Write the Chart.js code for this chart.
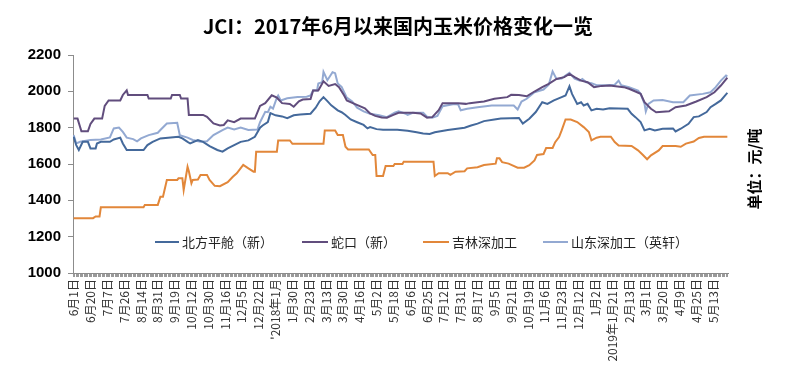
<!DOCTYPE html>
<html>
<head>
<meta charset="utf-8">
<script src="https://cdn.jsdelivr.net/npm/chart.js@4/dist/chart.umd.min.js"></script>
<style>
  html, body { margin: 0; padding: 0; background: #fff; }
  #wrap { width: 786px; height: 376px; }
</style>
</head>
<body>
<div id="wrap"><canvas id="chart" width="786" height="376"></canvas></div>
<script>
// one category per trading day, a date label every 13 days
const N_DAYS = 506;
const LABEL_STEP = 13;
const TICK_LABELS = ['6月1日','6月20日','7月7日','7月26日','8月14日','8月31日','9月19日','10月12日',
    '10月30日','11月16日','12月5日','12月22日',"'2018年1月",'1月30日','2月23日','3月13日','3月30日',
    '4月16日','5月2日','5月18日','6月6日','6月25日','7月12日','7月31日','8月17日','9月5日','9月21日',
    '10月19日','11月6日','11月23日','12月12日','1月2日','2019年1月21日','2月13日','3月1日','3月20日',
    '4月9日','4月25日','5月13日'];

const Y_TICKS = [1000, 1200, 1400, 1600, 1800, 2000, 2200];

const SERIES_NAMES = ['北方平舱（新）', '蛇口（新）', '吉林深加工', '山东深加工（英轩）'];

// [day index, price]
const beifang = [[0,1750],[2,1704],[4,1677],[7,1722],[11,1722],[13,1686],[17,1686],[18,1713],[21,1722],
    [28,1722],[31,1735],[36,1745],[38,1713],[41,1677],[54,1677],[57,1704],[61,1722],[67,1741],[75,1746],
    [81,1750],[84,1741],[88,1722],[90,1713],[96,1732],[100,1722],[105,1699],[111,1677],[115,1668],
    [119,1686],[124,1704],[129,1722],[135,1730],[140,1750],[144,1800],[146,1812],[150,1831],[152,1880],
    [156,1868],[161,1862],[165,1852],[170,1868],[175,1872],[183,1877],[187,1910],[190,1945],[193,1968],
    [196,1946],[199,1923],[204,1895],[207,1885],[210,1870],[214,1845],[219,1830],[224,1815],[227,1796],
    [229,1803],[234,1792],[239,1788],[250,1788],[258,1783],[265,1775],[270,1768],[275,1765],[279,1775],
    [289,1787],[302,1800],[307,1812],[312,1822],[317,1836],[325,1845],[330,1850],[344,1853],[347,1822],
    [352,1849],[357,1886],[362,1940],[366,1931],[371,1950],[377,1968],[380,1977],[383,2028],[385,1986],
    [389,1931],[392,1940],[394,1922],[397,1931],[400,1895],[404,1904],[409,1900],[414,1907],[428,1904],
    [431,1876],[434,1858],[438,1831],[441,1785],[445,1794],[449,1785],[455,1794],[463,1796],[465,1779],
    [469,1794],[475,1821],[479,1858],[483,1862],[489,1886],[492,1913],[496,1931],[500,1950],[505,1992]];

const shekou = [[0,1850],[3,1850],[6,1780],[11,1780],[13,1820],[16,1850],[22,1850],[24,1920],[27,1950],
    [36,1950],[38,1980],[41,2005],[42,1980],[57,1980],[58,1960],[75,1960],[76,1980],[82,1980],[83,1960],
    [88,1960],[89,1870],[100,1870],[103,1860],[108,1823],[113,1812],[116,1815],[119,1840],[124,1830],
    [129,1850],[140,1850],[144,1920],[148,1935],[153,1978],[157,1965],[161,1935],[167,1930],[170,1915],
    [174,1945],[177,1955],[183,1958],[185,2005],[189,2005],[193,2055],[197,2030],[202,2040],[205,2023],
    [209,1977],[211,1950],[217,1931],[225,1906],[229,1878],[233,1865],[238,1856],[242,1855],[247,1870],
    [251,1882],[262,1882],[268,1878],[273,1855],[277,1858],[282,1896],[285,1935],[297,1935],[303,1931],
    [306,1935],[312,1940],[317,1944],[325,1959],[335,1968],[338,1981],[344,1980],[350,1973],[356,1999],
    [362,2023],[367,2041],[373,2068],[379,2078],[383,2096],[387,2078],[392,2059],[397,2050],[402,2023],
    [408,2030],[414,2032],[425,2023],[429,2014],[434,1999],[438,1986],[441,1940],[446,1904],[450,1885],
    [460,1890],[465,1913],[473,1922],[481,1944],[489,1968],[495,1995],[500,2032],[505,2075]];

const jilin = [[0,1302],[15,1302],[17,1311],[20,1311],[21,1362],[54,1362],[55,1375],[65,1375],[67,1420],
    [69,1420],[72,1512],[80,1512],[81,1521],[84,1521],[85,1457],[88,1585],[89,1560],[91,1494],[92,1512],
    [96,1515],[98,1540],[103,1540],[105,1512],[109,1480],[113,1478],[119,1500],[123,1530],[126,1549],
    [131,1595],[135,1576],[139,1558],[140,1558],[141,1668],[157,1668],[158,1730],[167,1730],[169,1711],
    [193,1711],[194,1784],[202,1784],[204,1759],[208,1759],[210,1695],[212,1680],[228,1680],[231,1649],
    [233,1649],[234,1534],[239,1534],[241,1589],[247,1589],[248,1600],[254,1600],[255,1613],[278,1613],
    [279,1534],[282,1549],[289,1549],[291,1540],[295,1558],[302,1560],[304,1576],[312,1582],[317,1594],
    [326,1602],[327,1631],[329,1631],[331,1610],[336,1602],[343,1580],[348,1580],[352,1593],[356,1620],
    [358,1650],[363,1655],[365,1688],[370,1688],[372,1720],[375,1748],[377,1785],[380,1845],[384,1845],
    [389,1831],[394,1803],[398,1776],[400,1730],[404,1745],[407,1750],[415,1750],[418,1721],[421,1702],
    [431,1699],[436,1675],[440,1648],[443,1626],[446,1648],[452,1675],[455,1699],[465,1699],[469,1695],
    [473,1712],[479,1724],[483,1743],[487,1750],[505,1750]];

const shandong = [[0,1759],[2,1713],[5,1722],[13,1732],[21,1735],[28,1746],[31,1796],[35,1801],[38,1777],
    [41,1745],[46,1737],[49,1725],[52,1741],[58,1759],[65,1772],[67,1787],[72,1823],[80,1827],[82,1759],
    [88,1745],[92,1732],[98,1722],[103,1725],[108,1759],[115,1787],[119,1801],[124,1790],[129,1801],
    [135,1787],[142,1790],[144,1830],[148,1887],[150,1885],[152,1915],[154,1905],[157,1965],[158,1977],
    [160,1950],[165,1962],[173,1969],[180,1970],[183,1977],[185,2006],[188,2004],[189,2043],[192,2050],
    [193,2107],[196,2061],[200,2105],[202,2100],[204,2043],[207,2025],[211,1965],[215,1946],[219,1910],
    [224,1890],[229,1876],[236,1868],[242,1858],[248,1882],[251,1890],[256,1878],[258,1870],[262,1882],
    [270,1882],[273,1860],[277,1855],[281,1865],[285,1918],[294,1930],[297,1928],[299,1896],[304,1904],
    [312,1913],[323,1922],[340,1922],[343,1900],[346,1944],[350,1959],[356,1995],[363,2010],[367,2036],
    [370,2110],[373,2068],[377,2070],[380,2087],[383,2102],[387,2070],[391,2059],[393,2068],[396,2050],
    [400,2045],[404,2034],[411,2034],[418,2036],[421,2059],[423,2034],[429,2023],[436,2004],[438,1986],
    [441,1931],[442,1889],[444,1931],[448,1950],[455,1952],[463,1940],[471,1940],[476,1977],[486,1986],
    [492,1995],[496,2023],[500,2059],[504,2087],[505,2083]];

const COLORS = ['#44699b', '#614d7d', '#e2873a', '#93a9d2'];

const toPoints = arr => arr.map(([x, y]) => ({ x, y }));

// legend sits inside the plot, drawn by hand like the original
const legendPlugin = {
    id: 'inlineLegend',
    afterDraw(chart) {
        const ctx = chart.ctx;
        const items = [
            { line: 155, text: 182 },
            { line: 302, text: 331 },
            { line: 423, text: 452 },
            { line: 543, text: 571 },
        ];
        const y = 242;
        ctx.save();
        ctx.font = '13px "Noto Sans CJK SC"';
        ctx.textBaseline = 'middle';
        ctx.fillStyle = '#222';
        items.forEach((it, i) => {
            ctx.strokeStyle = COLORS[i];
            ctx.lineWidth = 2;
            ctx.beginPath();
            ctx.moveTo(it.line, y);
            ctx.lineTo(it.text - 3, y);
            ctx.stroke();
            ctx.fillText(SERIES_NAMES[i], it.text, y);
        });

        // title
        ctx.font = 'bold 20px "Noto Sans CJK SC"';
        ctx.textAlign = 'center';
        ctx.fillStyle = '#000';
        ctx.fillText('JCI：2017年6月以来国内玉米价格变化一览', 398, 26);

        // unit label on the right
        ctx.translate(754, 169);
        ctx.rotate(-Math.PI / 2);
        ctx.font = 'bold 15px "Noto Sans CJK SC"';
        ctx.fillText('单位：元/吨', 0, 0);
        ctx.restore();
    }
};

new Chart(document.getElementById('chart'), {
    type: 'line',
    data: {
        datasets: [beifang, shekou, jilin, shandong].map((s, i) => ({
            label: SERIES_NAMES[i],
            data: toPoints(s),
            borderColor: COLORS[i],
            borderWidth: 2,
            pointRadius: 0,
            tension: 0,
            fill: false,
        }))
    },
    options: {
        responsive: false,
        animation: false,
        devicePixelRatio: 1,
        layout: { padding: { top: 55, right: 58, left: 0, bottom: 0 } },
        plugins: { legend: { display: false }, tooltip: { enabled: false } },
        scales: {
            x: {
                type: 'linear',
                min: -0.5,
                max: N_DAYS - 0.5,
                afterBuildTicks: scale => {
                    scale.ticks = Array.from({ length: N_DAYS }, (_, i) => ({ value: i }));
                },
                afterFit: scale => { scale.height = 103; },
                border: { color: '#8c8c8c', width: 1 },
                grid: { display: true, drawOnChartArea: false, tickLength: 4, color: '#9a9a9a' },
                ticks: {
                    autoSkip: false,
                    minRotation: 90,
                    maxRotation: 90,
                    padding: 2,
                    color: '#333',
                    font: { family: '"Noto Sans CJK SC"', size: 12 },
                    callback: v => (v % LABEL_STEP === 0 ? TICK_LABELS[v / LABEL_STEP] ?? '' : ''),
                },
            },
            y: {
                min: 1000,
                max: 2200,
                afterBuildTicks: scale => { scale.ticks = Y_TICKS.map(v => ({ value: v })); },
                afterFit: scale => { scale.width = 73; },
                border: { color: '#8c8c8c', width: 1 },
                grid: { display: true, drawOnChartArea: false, tickLength: 5, color: '#8c8c8c' },
                ticks: {
                    padding: 7,
                    color: '#000',
                    font: { family: '"Liberation Sans", Arial', size: 15, weight: 'bold' },
                    callback: v => String(v),
                },
            },
        },
    },
    plugins: [legendPlugin],
});
</script>
</body>
</html>
